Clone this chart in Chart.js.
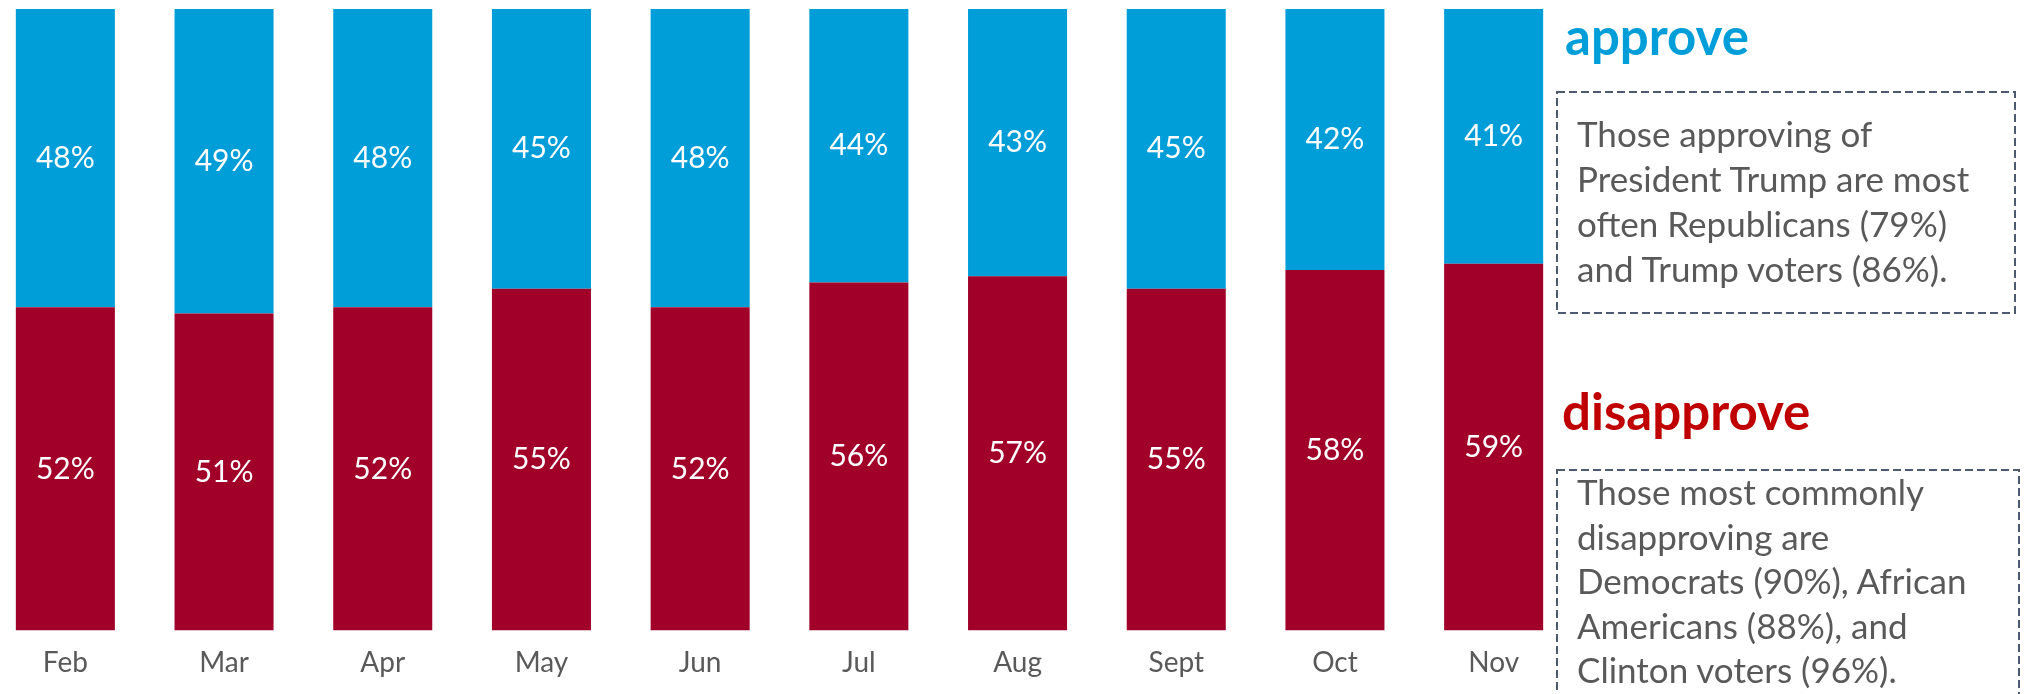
<!DOCTYPE html>
<html>
<head>
<meta charset="utf-8">
<script src="https://cdn.jsdelivr.net/npm/chart.js@4.4.1/dist/chart.umd.min.js"></script>
<style>
  html, body { margin:0; padding:0; background:#fff; overflow:hidden; }
  body { width:2024px; height:694px; position:relative; font-family: Lato, "Open Sans", sans-serif; }
  #wrap { position:absolute; left:-14px; top:0; width:2038px; height:696px; }
  .head { position:absolute; font-weight:700; font-size:51px; line-height:51px; white-space:nowrap; }
  .note { position:absolute; font-size:35px; line-height:45px; color:#595959; white-space:nowrap; }
  svg { position:absolute; left:0; top:0; }
</style>
</head>
<body>
<div id="wrap"><canvas id="c" width="2038" height="696"></canvas></div>
<svg width="2024" height="694">
  <rect x="1557" y="92" width="458" height="221" fill="none" stroke="#4B5A6E" stroke-width="2" stroke-dasharray="8 4"/>
  <rect x="1557" y="470" width="462" height="260" fill="none" stroke="#4B5A6E" stroke-width="2" stroke-dasharray="8 4"/>
</svg>
<div class="head" style="left:1565px; top:10px; color:#009ED9;">approve</div>
<div class="note" style="left:1577px; top:111px;">Those approving of<br>President Trump are most<br>often Republicans (79%)<br>and Trump voters (86%).</div>
<div class="head" style="left:1562px; top:385px; color:#C00000;">disapprove</div>
<div class="note" style="left:1577px; top:469px; line-height:44.5px;">Those most commonly<br>disapproving are<br>Democrats (90%), African<br>Americans (88%), and<br>Clinton voters (96%).</div>
<script>
const months = ["Feb","Mar","Apr","May","Jun","Jul","Aug","Sept","Oct","Nov"];
const disapprove = [52,51,52,55,52,56,57,55,58,59];
const approve = [48,49,48,45,48,44,43,45,42,41];

const barLabels = {
  id: 'barLabels',
  afterDatasetsDraw(chart) {
    const ctx = chart.ctx;
    ctx.save();
    ctx.fillStyle = '#ffffff';
    ctx.font = '30px Lato, "Open Sans", sans-serif';
    ctx.textAlign = 'center';
    ctx.textBaseline = 'middle';
    chart.data.datasets.forEach((ds, di) => {
      const meta = chart.getDatasetMeta(di);
      meta.data.forEach((el, i) => {
        const y = (el.y + el.base) / 2;
        ctx.fillText(ds.data[i] + '%', el.x, y);
      });
    });
    ctx.restore();
  }
};

new Chart(document.getElementById('c'), {
  type: 'bar',
  data: {
    labels: months,
    datasets: [
      { label: 'disapprove', data: disapprove, backgroundColor: '#A10029', borderWidth: 0 },
      { label: 'approve', data: approve, backgroundColor: '#009ED9', borderWidth: 0 }
    ]
  },
  options: {
    responsive: false,
    animation: false,
    devicePixelRatio: 1,
    layout: { padding: { left: 0, right: 451, top: 9, bottom: 0 } },
    plugins: { legend: { display: false }, tooltip: { enabled: false } },
    datasets: { bar: { categoryPercentage: 1, barPercentage: 0.624 } },
    scales: {
      x: {
        stacked: true,
        grid: { display: false, drawTicks: false },
        border: { display: false },
        ticks: { color: '#595959', font: { family: 'Lato, "Open Sans", sans-serif', size: 28 }, padding: 16 }
      },
      y: {
        stacked: true, display: false, min: 0, max: 100
      }
    }
  },
  plugins: [barLabels]
});
</script>
</body>
</html>
